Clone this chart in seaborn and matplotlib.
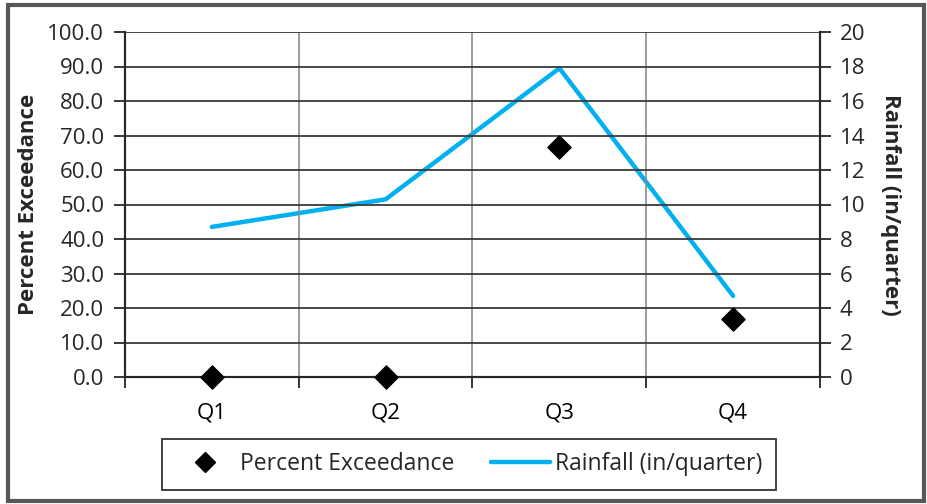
import matplotlib
matplotlib.use('Agg')
import matplotlib.pyplot as plt
from matplotlib.patches import Rectangle
from matplotlib.lines import Line2D
from matplotlib.ticker import FixedLocator
import seaborn as sns
import pandas as pd

quarters = ['Q1', 'Q2', 'Q3', 'Q4']
percent_exceedance = [0.0, 0.0, 66.7, 16.7]
rainfall = [8.7, 10.3, 17.9, 4.7]

df = pd.DataFrame({'quarter': quarters,
                   'pos': range(len(quarters)),
                   'pct': percent_exceedance,
                   'rain': rainfall})

sns.set_theme(style='white')
plt.rcParams['font.family'] = ['Open Sans', 'DejaVu Sans']

fig = plt.figure(figsize=(9.28, 5.04), dpi=100)
ax = fig.add_axes([125 / 928, 1 - 377 / 504, 695 / 928, 345 / 504])
ax2 = ax.twinx()

blue = '#00B0F0'
sns.lineplot(data=df, x='pos', y='rain', ax=ax2, color=blue, linewidth=3.2,
             legend=False, zorder=3)
sns.scatterplot(data=df, x='pos', y='pct', ax=ax, marker='D', s=140,
                color='black', edgecolor='black', legend=False, zorder=4, clip_on=False)

ax.set_zorder(ax2.get_zorder() + 1)
ax.patch.set_visible(False)

# left axis
ax.set_ylim(0, 100)
ax.set_yticks(range(0, 101, 10))
ax.set_yticklabels([f'{v:.1f}' for v in range(0, 101, 10)])
ax.set_ylabel('Percent Exceedance', fontsize=16, fontweight='bold', labelpad=6)
ax.grid(axis='y', color='#3a3a3a', linewidth=1.3)

# right axis
ax2.set_ylim(0, 20)
ax2.set_yticks(range(0, 21, 2))
ax2.set_ylabel('Rainfall (in/quarter)', fontsize=16, fontweight='bold',
               rotation=270, labelpad=26)

# x axis: labels at centres, ticks/grid at boundaries
ax.set_xlim(-0.5, len(quarters) - 0.5)
ax.set_xticks(range(len(quarters)))
ax.set_xticklabels(quarters)
ax.xaxis.set_minor_locator(FixedLocator([i - 0.5 for i in range(len(quarters) + 1)]))
ax.grid(axis='x', which='minor', color='#8c8c8c', linewidth=1.2)
ax.set_xlabel('')
ax2.set_xlim(-0.5, len(quarters) - 0.5)

ax.tick_params(axis='x', which='major', length=0, labelsize=16, pad=18, colors='black')
ax.tick_params(axis='x', which='minor', length=8, width=1.3, color='#262626', bottom=True)
ax.tick_params(axis='y', length=8, width=1.3, labelsize=16, pad=7, left=True, color='#262626')
ax2.tick_params(axis='y', length=8, width=1.3, labelsize=16, pad=6, right=True, color='#262626')

for a in (ax, ax2):
    for side in ('left', 'right', 'bottom'):
        a.spines[side].set_color('#262626')
        a.spines[side].set_linewidth(1.5)
    a.spines['top'].set_visible(False)

# legend
handles = [Line2D([], [], marker='D', color='black', linestyle='none', markersize=10),
           Line2D([], [], color=blue, linewidth=3.2)]
leg = fig.legend(handles, ['Percent Exceedance', 'Rainfall (in/quarter)'],
                 loc='center', bbox_to_anchor=(469 / 928, 1 - 464.5 / 504), ncol=2,
                 fontsize=16.5, frameon=True, fancybox=False, edgecolor='black',
                 handlelength=2.6, handletextpad=0.2, columnspacing=1.6,
                 borderpad=0.6)
leg.get_frame().set_linewidth(1.3)

# outer chart frame
fig.patches.append(Rectangle((8.5 / 928, 3 / 504), 916 / 928, 496 / 504,
                             transform=fig.transFigure, fill=False,
                             edgecolor='#575757', linewidth=3))

fig.savefig('out.png', dpi=100)
